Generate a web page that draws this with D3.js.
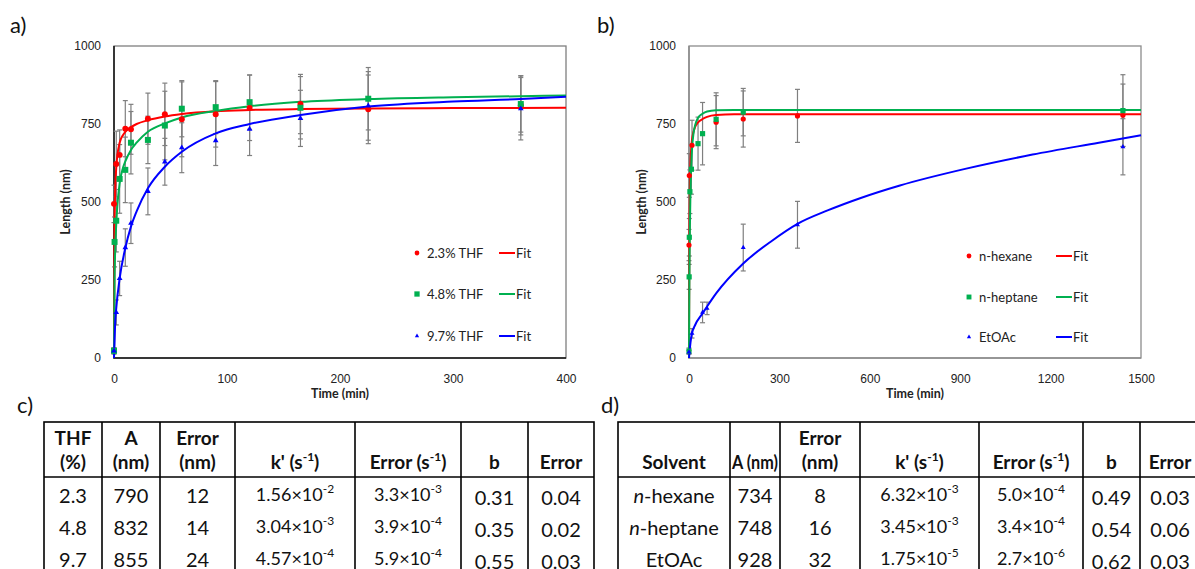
<!DOCTYPE html>
<html lang="en">
<head>
<meta charset="UTF-8">
<title>Nanofibre length vs time</title>
<script src="https://cdn.jsdelivr.net/npm/d3@7"></script>
<style>
    body { margin: 0; background: #fff; }
    svg { display: block; font-family: Lato, "Open Sans", sans-serif; }
</style>
</head>
<body>
<div id="chart"></div>
<script>
/*------------------------------------------------------------*/
/*------------------- data: panel a (THF) --------------------*/
/*------------------------------------------------------------*/
const thf23Time = [0, 2, 5, 10, 15, 30, 45, 60, 90, 120, 165, 225, 360];
const thf23Len  = [494, 622, 651, 735, 733, 767, 781, 765, 781, 802, 814, 797, 810];
const thf23Err  = [60, 105, 80, 90, 80, 82, 100, 120, 105, 105, 95, 110, 95];
const thf23Fit  = [[0,0],[0.5,420],[1,530],[2,610],[3,650],[5,690],[8,715],[10,725],[15,740],[20,750],[30,762],[45,774],[60,782],[90,791],[120,795],[165,798],[225,800],[300,801],[400,802]];

const thf48Time = [0, 0.5, 2, 5, 10, 15, 30, 45, 60, 90, 120, 165, 225, 360];
const thf48Len  = [23, 372, 440, 574, 603, 690, 699, 745, 799, 804, 820, 802, 831, 814];
const thf48Err  = [10, 80, 100, 110, 105, 100, 76, 110, 90, 85, 87, 100, 100, 90];
const thf48Fit  = [[0,0],[0.5,250],[1,340],[2,430],[3,490],[5,560],[8,610],[10,630],[15,667],[20,690],[30,725],[45,752],[60,771],[90,792],[120,807],[165,821],[225,830],[300,836],[400,841]];

const thf97Time = [0, 2, 5, 10, 15, 30, 45, 60, 90, 120, 165, 225, 360];
const thf97Len  = [23, 146, 255, 354, 432, 534, 629, 674, 697, 734, 768, 808, 799];
const thf97Err  = [10, 40, 55, 60, 65, 75, 75, 80, 80, 85, 90, 110, 100];
const thf97Fit  = [[0,0],[1,110],[2,160],[5,255],[10,352],[15,421],[20,470],[30,544],[45,613],[60,661],[90,720],[120,750],[165,779],[225,806],[300,822],[360,830],[400,837]];

/*------------------------------------------------------------*/
/*----------------- data: panel b (solvents) -----------------*/
/*------------------------------------------------------------*/
const hexTime = [0, 1, 10, 90, 180, 360, 1440];
const hexLen  = [362, 585, 682, 756, 766, 776, 778];
const hexErr  = [50, 70, 80, 85, 90, 85, 100];
const hexFit  = [[0,0],[1,330],[2,470],[3,550],[5,630],[8,680],[10,700],[15,725],[20,740],[30,755],[45,766],[60,773],[90,779],[150,781],[300,781],[1500,781]];

const hepTime = [0, 0.5, 1, 3, 8, 30, 45, 90, 180, 1440];
const hepLen  = [22, 260, 387, 533, 605, 687, 719, 765, 788, 793];
const hepErr  = [10, 40, 60, 70, 80, 85, 100, 85, 76, 115];
const hepFit  = [[0,0],[1,200],[2,320],[3,420],[5,540],[8,630],[10,670],[15,720],[20,745],[30,770],[45,783],[60,790],[90,794],[150,795],[1500,795]];

const etoTime = [0, 10, 45, 60, 180, 360, 1440];
const etoLen  = [19, 79, 146, 159, 354, 427, 677];
const etoErr  = [5, 15, 33, 20, 75, 75, 90];
const etoFit  = [[0,0],[5,50],[10,80],[20,105],[45,143],[60,165],[90,207],[180,303],[270,372],[360,430],[460,473],[570,513],[700,553],[920,607],[1140,652],[1360,690],[1500,714]];

const yTicks = [0, 250, 500, 750, 1000];
const xTicksA = [0, 100, 200, 300, 400];
const xTicksB = [0, 300, 600, 900, 1200, 1500];

/*------------------------------------------------------------*/
/*----------------------- data: tables -----------------------*/
/*------------------------------------------------------------*/
const tableCHead = [["THF", "(%)"], ["A", "(nm)"], ["Error", "(nm)"], ["k' (s^-1)"], ["Error (s^-1)"], ["b"], ["Error"]];
const tableCRows = [
    ["2.3", "790", "12", "1.56×10^-2", "3.3×10^-3", "0.31", "0.04"],
    ["4.8", "832", "14", "3.04×10^-3", "3.9×10^-4", "0.35", "0.02"],
    ["9.7", "855", "24", "4.57×10^-4", "5.9×10^-4", "0.55", "0.03"]
];
const tableDHead = [["Solvent"], ["A (nm)"], ["Error", "(nm)"], ["k' (s^-1)"], ["Error (s^-1)"], ["b"], ["Error"]];
const tableDRows = [
    ["_n_-hexane", "734", "8", "6.32×10^-3", "5.0×10^-4", "0.49", "0.03"],
    ["_n_-heptane", "748", "16", "3.45×10^-3", "3.4×10^-4", "0.54", "0.06"],
    ["EtOAc", "928", "32", "1.75×10^-5", "2.7×10^-6", "0.62", "0.03"]
];

/*------------------------------------------------------------*/
/*-------------------------- layout ---------------------------*/
/*------------------------------------------------------------*/
const W = 1195, H = 569;
const plotTop = 46, plotBottom = 358;

const svg = d3.select("#chart").append("svg")
    .attr("width", W)
    .attr("height", H);

function panelLabel(x, y, txt) {
    svg.append("text").attr("x", x).attr("y", y)
        .attr("font-size", 22).attr("fill", "#111").text(txt);
}

function drawPanel(p) {
    const x = d3.scaleLinear().domain([0, p.xMax]).range([p.left, p.right]);
    const y = d3.scaleLinear().domain([0, 1000]).range([plotBottom, plotTop]);
    const g = svg.append("g");

    // plot frame
    g.append("rect")
        .attr("x", p.left).attr("y", plotTop)
        .attr("width", p.right - p.left).attr("height", plotBottom - plotTop)
        .attr("fill", "none").attr("stroke", p.frame).attr("stroke-width", 1.3);
    g.append("path")
        .attr("d", `M${p.left},${plotTop}V${plotBottom}H${p.right}`)
        .attr("fill", "none").attr("stroke", p.axisColor).attr("stroke-width", 1.5);

    // axes (labels only)
    const xa = g.append("g").attr("transform", `translate(0,${plotBottom})`)
        .call(d3.axisBottom(x).tickValues(p.xTicks).tickFormat(d3.format("d")).tickSize(0).tickPadding(16));
    const ya = g.append("g").attr("transform", `translate(${p.left},0)`)
        .call(d3.axisLeft(y).tickValues(yTicks).tickFormat(d3.format("d")).tickSize(0).tickPadding(13));
    [xa, ya].forEach(a => {
        a.select(".domain").remove();
        a.selectAll("text").attr("font-size", 12).attr("font-family", null).attr("fill", "#222");
    });

    g.append("text")
        .attr("x", (p.left + p.right) / 2).attr("y", 398)
        .attr("text-anchor", "middle").attr("font-size", 12.5).attr("font-weight", "bold")
        .attr("fill", "#222").text("Time (min)");
    g.append("text")
        .attr("transform", `translate(${p.yTitleX},${(plotTop + plotBottom) / 2}) rotate(-90)`)
        .attr("text-anchor", "middle").attr("font-size", 12.5).attr("font-weight", "bold")
        .attr("fill", "#222").text("Length (nm)");

    const line = d3.line()
        .x(d => x(d[0])).y(d => y(d[1]))
        .curve(d3.curveMonotoneX);

    // error bars
    p.series.forEach(s => {
        const eb = g.append("g").attr("stroke", "#7f7f7f").attr("stroke-width", 1.2);
        s.t.forEach((t, i) => {
            const cx = x(t), y1 = y(s.v[i] + s.e[i]), y2 = y(s.v[i] - s.e[i]);
            eb.append("line").attr("x1", cx).attr("x2", cx).attr("y1", y1).attr("y2", y2);
            eb.append("line").attr("x1", cx - 2.5).attr("x2", cx + 2.5).attr("y1", y1).attr("y2", y1);
            eb.append("line").attr("x1", cx - 2.5).attr("x2", cx + 2.5).attr("y1", y2).attr("y2", y2);
        });
    });

    // fit lines
    p.series.forEach(s => {
        g.append("path")
            .datum(s.fit)
            .attr("d", line)
            .attr("fill", "none").attr("stroke", s.color).attr("stroke-width", 2);
    });

    // markers
    p.series.forEach(s => {
        g.append("g").selectAll("path")
            .data(s.t.map((t, i) => [t, s.v[i]]))
            .join("path")
            .attr("transform", d => `translate(${x(d[0])},${y(d[1])})`)
            .attr("d", d3.symbol().type(s.shape).size(s.size * p.markScale))
            .attr("fill", s.color);
    });

    // legend
    p.series.forEach((s, i) => {
        const ly = p.legend.rows[i];
        g.append("path")
            .attr("transform", `translate(${p.legend.marker},${ly})`)
            .attr("d", d3.symbol().type(s.shape).size(s.legendSize))
            .attr("fill", s.color);
        g.append("text").attr("x", p.legend.label).attr("y", ly).attr("dy", "0.35em")
            .attr("font-size", 13).attr("fill", "#222").text(s.name);
        g.append("line")
            .attr("x1", p.legend.line[0]).attr("x2", p.legend.line[1])
            .attr("y1", ly).attr("y2", ly)
            .attr("stroke", s.color).attr("stroke-width", 2);
        g.append("text").attr("x", p.legend.line[1] + 1).attr("y", ly).attr("dy", "0.35em")
            .attr("font-size", 13).attr("fill", "#222").text("Fit");
    });
}

const RED = "#ff0000", GREEN = "#00b050", BLUE = "#0000ff";

drawPanel({
    xMax: 400, left: 114, right: 566, xTicks: xTicksA, yTitleX: 70,
    frame: "#7f7f7f", axisColor: "#111", markScale: 1,
    legend: { rows: [253, 294, 336], marker: 417, label: 427, line: [499, 515] },
    series: [
        { name: "2.3% THF", color: RED, shape: d3.symbolCircle, size: 28, legendSize: 18, t: thf23Time, v: thf23Len, e: thf23Err, fit: thf23Fit },
        { name: "4.8% THF", color: GREEN, shape: d3.symbolSquare, size: 36, legendSize: 28, t: thf48Time, v: thf48Len, e: thf48Err, fit: thf48Fit },
        { name: "9.7% THF", color: BLUE, shape: d3.symbolTriangle, size: 14, legendSize: 8, t: thf97Time, v: thf97Len, e: thf97Err, fit: thf97Fit }
    ]
});

drawPanel({
    xMax: 1500, left: 689, right: 1141, xTicks: xTicksB, yTitleX: 646,
    frame: "#8c8c8c", axisColor: "#8c8c8c", markScale: 0.75,
    legend: { rows: [256, 297, 337], marker: 969, label: 979, line: [1056, 1072] },
    series: [
        { name: "n-hexane", color: RED, shape: d3.symbolCircle, size: 28, legendSize: 18, t: hexTime, v: hexLen, e: hexErr, fit: hexFit },
        { name: "n-heptane", color: GREEN, shape: d3.symbolSquare, size: 36, legendSize: 24, t: hepTime, v: hepLen, e: hepErr, fit: hepFit },
        { name: "EtOAc", color: BLUE, shape: d3.symbolTriangle, size: 14, legendSize: 8, t: etoTime, v: etoLen, e: etoErr, fit: etoFit }
    ]
});

panelLabel(10, 33, "a)");
panelLabel(597, 33, "b)");
panelLabel(17, 413, "c)");
panelLabel(601, 413, "d)");

/*------------------------------------------------------------*/
/*-------------------------- tables ---------------------------*/
/*------------------------------------------------------------*/
// "^-2" -> superscript, "_n_" -> italic
function richText(sel, str, supSize) {
    const parts = str.split(/(\^-?\d+|_[^_]+_)/).filter(s => s !== "");
    let raised = false;
    parts.forEach(p => {
        const t = sel.append("tspan");
        if (p.startsWith("^")) {
            t.attr("font-size", supSize).attr("dy", -8).text(p.slice(1));
            raised = true;
            return;
        }
        if (raised) { t.attr("dy", 8); raised = false; }
        if (p.startsWith("_")) t.attr("font-style", "italic").text(p.slice(1, -1));
        else t.text(p);
    });
}

// squeeze a cell text that is wider than its column
function fitWidth(t, w) {
    const len = t.node().getComputedTextLength();
    if (len > w) t.attr("textLength", w).attr("lengthAdjust", "spacingAndGlyphs");
}

function drawTable(cols, head, rows) {
    const top = 422, headBottom = 477, bottom = 585;
    const g = svg.append("g");
    g.append("rect")
        .attr("x", cols[0]).attr("y", top)
        .attr("width", cols[cols.length - 1] - cols[0]).attr("height", bottom - top)
        .attr("fill", "none").attr("stroke", "#000").attr("stroke-width", 1.6);
    cols.slice(1, -1).forEach(cx => {
        g.append("line").attr("x1", cx).attr("x2", cx).attr("y1", top).attr("y2", bottom)
            .attr("stroke", "#000").attr("stroke-width", 1.6);
    });
    g.append("line").attr("x1", cols[0]).attr("x2", cols[cols.length - 1])
        .attr("y1", headBottom).attr("y2", headBottom)
        .attr("stroke", "#000").attr("stroke-width", 1.6);

    const headBase = [445, 469];
    head.forEach((lines, i) => {
        const cx = (cols[i] + cols[i + 1]) / 2;
        lines.forEach((ln, j) => {
            const yb = headBase[j + 2 - lines.length];
            const t = g.append("text").attr("x", cx).attr("y", yb)
                .attr("text-anchor", "middle").attr("font-size", 19).attr("font-weight", "bold")
                .attr("fill", "#111");
            richText(t, ln, 12);
            fitWidth(t, cols[i + 1] - cols[i] - 4);
        });
    });

    const rowBase = [503, 535, 567];
    const colShift = [0, 0, 0, -2, -2, 2, 2];
    rows.forEach((r, ri) => {
        r.forEach((cell, ci) => {
            const cx = (cols[ci] + cols[ci + 1]) / 2;
            const t = g.append("text").attr("x", cx).attr("y", rowBase[ri] + colShift[ci])
                .attr("text-anchor", "middle").attr("font-size", cell.includes("^") ? 18 : 20)
                .attr("fill", "#111");
            richText(t, cell, 12);
            fitWidth(t, cols[ci + 1] - cols[ci] - 4);
        });
    });
}

drawTable([44, 102, 160, 235, 355, 461, 528, 594], tableCHead, tableCRows);
drawTable([618, 730, 780, 860, 979, 1083, 1140, 1200], tableDHead, tableDRows);
</script>
</body>
</html>
